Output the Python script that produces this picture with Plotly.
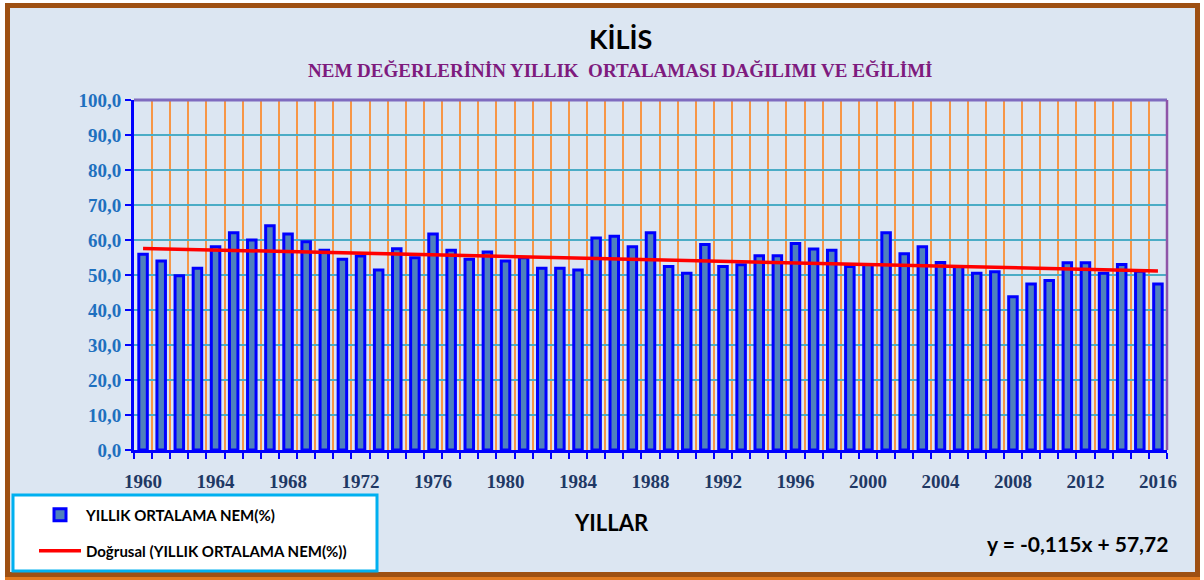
import plotly.graph_objects as go

# ---------------- data ----------------
years = list(range(1960, 2017))
nem = [55.9, 54.0, 49.8, 51.9, 58.1, 62.1, 60.0, 64.1, 61.7, 59.5,
       57.1, 54.5, 55.4, 51.4, 57.5, 54.9, 61.7, 57.1, 54.5, 56.6,
       54.0, 54.9, 51.9, 51.9, 51.4, 60.6, 61.1, 58.1, 62.1, 52.4,
       50.5, 58.7, 52.4, 52.9, 55.5, 55.5, 59.0, 57.4, 57.1, 52.4,
       53.0, 62.1, 56.1, 58.1, 53.6, 52.4, 50.5, 50.9, 43.8, 47.4,
       48.4, 53.5, 53.5, 50.5, 53.0, 51.1, 47.4]
trend_slope = -0.115
trend_intercept = 57.72
x_tick_labels = list(range(1960, 2017, 4))
y_ticks = list(range(0, 101, 10))

trend = [trend_slope * (i + 1) + trend_intercept for i in range(len(years))]

# ---------------- layout geometry (screen pixels) ----------------
W, H = 1204, 580
L, R, T, B = 134, 1167, 100, 450   # plot area in pixels
PW, PH = R - L, B - T


def px(x):
    return (x - L) / PW


def py(y):
    return (B - y) / PH


SANS = "Lato"
SERIF = "Liberation Serif"

fig = go.Figure()
fig.add_trace(go.Bar(
    x=years, y=nem, name="YILLIK ORTALAMA NEM(%)",
    marker=dict(color="#4F81BD", line=dict(color="#0000FF", width=3)),
    legend="legend",
))
fig.add_trace(go.Scatter(
    x=years, y=trend, mode="lines", name="Doğrusal (YILLIK ORTALAMA NEM(%))",
    line=dict(color="#FF0000", width=3.5),
    legend="legend2",
))

legend_font = dict(family=SANS, size=15, color="#000000", weight="bold")

fig.update_layout(
    width=W, height=H,
    margin=dict(l=L, r=W - R, t=T, b=H - B, pad=0),
    paper_bgcolor="#FFFFFF",
    plot_bgcolor="#FFFFFF",
    bargap=0.53,
    separators=",.",
    showlegend=True,
    legend=dict(x=px(34), y=py(515), xanchor="left", yanchor="middle",
                bgcolor="rgba(0,0,0,0)", borderwidth=0, itemwidth=42,
                font=legend_font),
    legend2=dict(x=px(34), y=py(551), xanchor="left", yanchor="middle",
                 bgcolor="rgba(0,0,0,0)", borderwidth=0, itemwidth=42,
                 font=legend_font),
    xaxis=dict(
        range=[years[0] - 0.5, years[-1] + 0.5],
        tickmode="array", tickvals=x_tick_labels,
        ticks="", showgrid=False, zeroline=False,
        showline=True, linecolor="#0000FF", linewidth=3,
        tickfont=dict(family=SERIF, size=19, color="#1F3864", weight="bold"),
        ticklabelstandoff=12,
        automargin=False,
        minor=dict(tick0=years[0] - 0.5, dtick=1, ticks="outside", ticklen=6,
                   tickwidth=2, tickcolor="#0000FF", showgrid=True,
                   gridcolor="#F79646", gridwidth=1.5),
    ),
    yaxis=dict(
        range=[0, 100], tickmode="array", tickvals=y_ticks, tickformat=".1f",
        ticks="outside", ticklen=6, tickwidth=2, tickcolor="#0000FF",
        showgrid=True, gridcolor="#4BACC6", gridwidth=2, zeroline=False,
        showline=True, linecolor="#0000FF", linewidth=3,
        tickfont=dict(family=SERIF, size=19, color="#1E70BF", weight="bold"),
        automargin=False,
    ),
    shapes=[
        # outer frame
        dict(type="rect", xref="paper", yref="paper", layer="below",
             x0=px(7.5), x1=px(1197.5), y0=py(574.5), y1=py(5.5),
             fillcolor="#DCE6F2", line=dict(color="#9E5012", width=5)),
        # bottom orange edge of the frame
        dict(type="line", xref="paper", yref="paper", layer="below",
             x0=px(5), x1=px(1200), y0=py(578.5), y1=py(578.5),
             line=dict(color="#E0791F", width=3)),
        # legend box
        dict(type="rect", xref="paper", yref="paper", layer="below",
             x0=px(13), x1=px(377), y0=py(571), y1=py(495),
             fillcolor="#FFFFFF", line=dict(color="#00B0F0", width=3)),
        # plot border top / right
        dict(type="line", xref="x domain", yref="y domain", x0=0, x1=1, y0=1, y1=1,
             line=dict(color="#7F6BBF", width=3)),
        dict(type="line", xref="x domain", yref="y domain", x0=1, x1=1, y0=0, y1=1,
             line=dict(color="#8E55A8", width=2.5)),
    ],
    annotations=[
        dict(text="KİLİS", xref="paper", yref="paper", x=px(620), y=py(38),
             showarrow=False, xanchor="center", yanchor="middle",
             font=dict(family=SANS, size=27, color="#000000", weight="bold")),
        dict(text="NEM DEĞERLERİNİN YILLIK  ORTALAMASI DAĞILIMI VE EĞİLİMİ",
             xref="paper", yref="paper", x=px(620), y=py(70),
             showarrow=False, xanchor="center", yanchor="middle",
             font=dict(family=SERIF, size=19, color="#7E1B7E", weight="bold")),
        dict(text="YILLAR", xref="paper", yref="paper", x=px(611), y=py(522),
             showarrow=False, xanchor="center", yanchor="middle",
             font=dict(family=SANS, size=22, color="#000000", weight="bold")),
        dict(text="y = -0,115x + 57,72", xref="paper", yref="paper", x=px(1170), y=py(543),
             showarrow=False, xanchor="right", yanchor="middle",
             font=dict(family=SANS, size=21, color="#000000", weight="bold")),
    ],
)

fig.write_html("out.html",
               config={"displayModeBar": False},
               post_script="document.body.style.margin='0';document.body.style.overflow='hidden';")
